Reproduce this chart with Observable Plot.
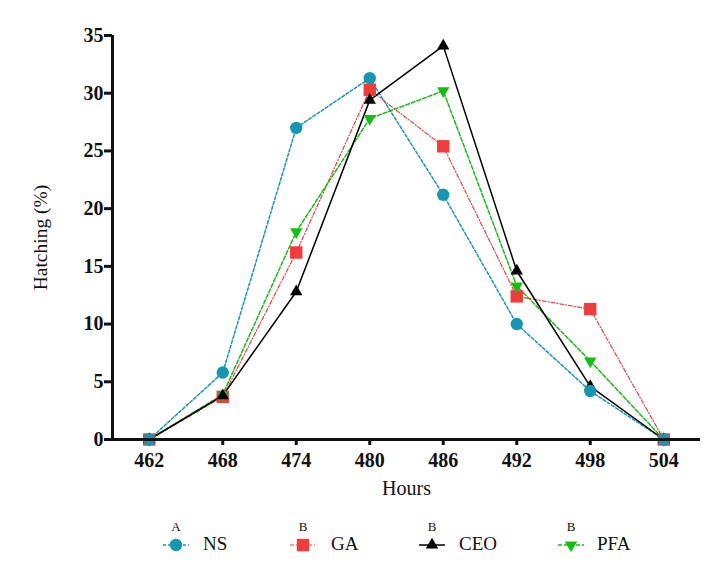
<!DOCTYPE html>
<html>
<head>
<meta charset="utf-8">
<script src="https://cdn.jsdelivr.net/npm/d3@7"></script>
<script src="https://cdn.jsdelivr.net/npm/@observablehq/plot@0.6"></script>
<style>
  body { margin: 0; background: #fff; font-family: "Liberation Serif", "Times New Roman", serif; }
  #wrap { width: 708px; height: 563px; position: relative; }
  #wrap svg { display: block; }
  #legend { position: relative; width: 708px; height: 58px; }
  .lab { position: absolute; font-size: 19px; color: #111; top: 28px; line-height: 22px; }
  .letter { position: absolute; font-size: 13px; color: #111; top: 15px; line-height: 14px; width: 20px; text-align: center; }
</style>
</head>
<body>
<div id="wrap"></div>
<script>
const hours = [462, 468, 474, 480, 486, 492, 498, 504];
const seriesNames = ["NS", "GA", "CEO", "PFA"];
const letters = ["A", "B", "B", "B"];
const NS  = [0, 5.8, 27.0, 31.3, 21.2, 10.0, 4.2, 0];
const GA  = [0, 3.7, 16.2, 30.3, 25.4, 12.4, 11.3, 0];
const CEO = [0, 3.8, 12.8, 29.4, 34.1, 14.6, 4.6, 0];
const PFA = [0, 3.9, 18.0, 27.8, 30.2, 13.3, 6.8, 0];
const yTicks = [0, 5, 10, 15, 20, 25, 30, 35];

const colors = {NS: "#1597b3", GA: "#f23b3b", CEO: "#000000", PFA: "#12c012"};
const dashes = {NS: "3,2", GA: "4,2,1,2", CEO: null, PFA: "4,2"};
const symbols = {NS: "circle", GA: "square", CEO: "triangle", PFA: "triangle"};
const radii = {NS: 6.2, GA: 7, CEO: 4.6, PFA: 4.6};
const rotates = {NS: 0, GA: 0, CEO: 0, PFA: 180};
const values = {NS, GA, CEO, PFA};

const rows = s => hours.map((h, i) => ({hour: h, value: values[s][i], series: s}));

const lineMarks = ["NS", "GA", "PFA", "CEO"].map(s =>
  Plot.line(rows(s), {x: "hour", y: "value", stroke: colors[s], strokeWidth: s === "GA" ? 1.2 : 1.5,
    strokeDasharray: dashes[s]}));
const dotMarks = ["GA", "PFA", "CEO", "NS"].map(s =>
  Plot.dot(rows(s), {x: "hour", y: "value", fill: colors[s], symbol: symbols[s], rotate: rotates[s], r: radii[s]}));

const xMin = 459, xMax = 507;

const chart = Plot.plot({
  width: 708,
  height: 505,
  marginLeft: 112,
  marginRight: 8,
  marginTop: 35,
  marginBottom: 66,
  style: {fontFamily: "'Liberation Serif', 'Times New Roman', serif", background: "#fff", color: "#111"},
  x: {domain: [xMin, xMax]},
  y: {domain: [0, 35]},
  marks: [
    Plot.axisY({ticks: yTicks, tickSize: 8, tickPadding: 1, fontSize: 20, fontWeight: "bold", strokeWidth: 3, label: null}),
    Plot.axisX({ticks: hours, tickSize: 6, tickPadding: 7, fontSize: 20, fontWeight: "bold", strokeWidth: 3, label: null}),
    Plot.text(["Hours"], {frameAnchor: "bottom", lineAnchor: "middle", textAnchor: "middle", dy: 49, fontSize: 20, fill: "#111"}),
    Plot.text(["Hatching (%)"], {frameAnchor: "left", lineAnchor: "middle", textAnchor: "middle", dx: -72, rotate: -90, fontSize: 19.5, fill: "#111"}),
    ...lineMarks,
    ...dotMarks,
    Plot.ruleY([0], {strokeWidth: 3, stroke: "#111"}),
    Plot.ruleX([xMin], {y1: 0, y2: 35, strokeWidth: 3, stroke: "#111"})
  ]
});
document.getElementById("wrap").appendChild(chart);

// Legend
const legend = document.createElement("div");
legend.id = "legend";
const centers = [176, 303, 432, 571];
const textStarts = [203, 331, 459, 597];
const symSize = {NS: Math.PI * 6.2 * 6.2, GA: Math.PI * 49, CEO: Math.PI * 4.6 * 4.6, PFA: Math.PI * 4.6 * 4.6};
seriesNames.forEach((s, i) => {
  const cx = centers[i];
  const sw = document.createElementNS("http://www.w3.org/2000/svg", "svg");
  sw.setAttribute("width", 30); sw.setAttribute("height", 20);
  sw.style.position = "absolute"; sw.style.left = (cx - 15) + "px"; sw.style.top = "30px";
  const ln = document.createElementNS("http://www.w3.org/2000/svg", "line");
  ln.setAttribute("x1", 2); ln.setAttribute("x2", 28); ln.setAttribute("y1", 10); ln.setAttribute("y2", 10);
  ln.setAttribute("stroke", colors[s]); ln.setAttribute("stroke-width", s === "GA" ? 1.2 : 1.5);
  if (dashes[s]) ln.setAttribute("stroke-dasharray", dashes[s]);
  sw.appendChild(ln);
  const sym = d3.symbol(s === "NS" ? d3.symbolCircle : s === "GA" ? d3.symbolSquare : d3.symbolTriangle, symSize[s])();
  const p = document.createElementNS("http://www.w3.org/2000/svg", "path");
  p.setAttribute("d", sym); p.setAttribute("fill", colors[s]);
  p.setAttribute("transform", `translate(15,10) rotate(${rotates[s]})`);
  sw.appendChild(p);
  legend.appendChild(sw);
  const lt = document.createElement("div");
  lt.className = "letter"; lt.textContent = letters[i];
  lt.style.left = (cx - 10) + "px";
  legend.appendChild(lt);
  const lb = document.createElement("div");
  lb.className = "lab"; lb.textContent = s;
  lb.style.left = textStarts[i] + "px";
  legend.appendChild(lb);
});
document.getElementById("wrap").appendChild(legend);
</script>
</body>
</html>
